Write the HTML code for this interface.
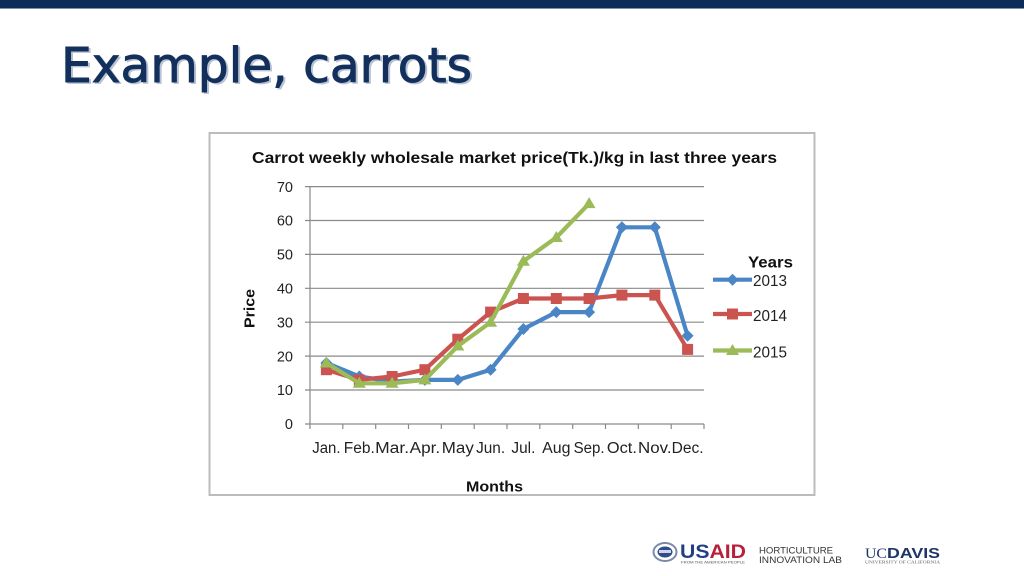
<!DOCTYPE html>
<html><head><meta charset="utf-8"><style>
html,body{margin:0;padding:0;background:#fff;}
svg{display:block;}
</style></head><body>
<svg width="1024" height="576" viewBox="0 0 1024 576" xmlns="http://www.w3.org/2000/svg">
<rect x="0" y="0" width="1024" height="576" fill="#ffffff"/>
<rect x="0" y="0" width="1024" height="8" fill="#0d2b59"/>
<rect x="0" y="8" width="1024" height="1" fill="#7b8fab"/>
<text x="63" y="83.5" font-family="DejaVu Sans, sans-serif" font-size="48" fill="#b8c2d2" stroke="#b8c2d2" stroke-width="0.8" textLength="411" lengthAdjust="spacingAndGlyphs">Example, carrots</text>
<text x="61" y="82" font-family="DejaVu Sans, sans-serif" font-size="48" fill="#13305d" stroke="#13305d" stroke-width="0.9" textLength="411" lengthAdjust="spacingAndGlyphs">Example, carrots</text>

<rect x="209.5" y="133" width="605" height="362" fill="#fff" stroke="#bcbcbc" stroke-width="2"/>
<text x="252" y="163" font-family="Liberation Sans, sans-serif" font-weight="bold" font-size="16" fill="#111" textLength="525" lengthAdjust="spacingAndGlyphs">Carrot weekly wholesale market price(Tk.)/kg  in last three years</text>

<g stroke="#8a8a8a" stroke-width="1.2">
<line x1="305" y1="186.6" x2="704" y2="186.6"/>
<line x1="305" y1="220.5" x2="704" y2="220.5"/>
<line x1="305" y1="254.4" x2="704" y2="254.4"/>
<line x1="305" y1="288.3" x2="704" y2="288.3"/>
<line x1="305" y1="322.2" x2="704" y2="322.2"/>
<line x1="305" y1="356.1" x2="704" y2="356.1"/>
<line x1="305" y1="390" x2="704" y2="390"/>
<line x1="305" y1="424" x2="704" y2="424"/>
<line x1="310" y1="186.6" x2="310" y2="424"/>
<line x1="310" y1="424" x2="310" y2="429"/>
<line x1="342.8" y1="424" x2="342.8" y2="429"/>
<line x1="375.7" y1="424" x2="375.7" y2="429"/>
<line x1="408.5" y1="424" x2="408.5" y2="429"/>
<line x1="441.3" y1="424" x2="441.3" y2="429"/>
<line x1="474.2" y1="424" x2="474.2" y2="429"/>
<line x1="507" y1="424" x2="507" y2="429"/>
<line x1="539.8" y1="424" x2="539.8" y2="429"/>
<line x1="572.7" y1="424" x2="572.7" y2="429"/>
<line x1="605.5" y1="424" x2="605.5" y2="429"/>
<line x1="638.3" y1="424" x2="638.3" y2="429"/>
<line x1="671.2" y1="424" x2="671.2" y2="429"/>
<line x1="704" y1="424" x2="704" y2="429"/>
</g>

<g font-family="Liberation Sans, sans-serif" font-size="14.5" fill="#222" text-anchor="end">
<text x="293" y="191.8">70</text>
<text x="293" y="225.7">60</text>
<text x="293" y="259.6">50</text>
<text x="293" y="293.5">40</text>
<text x="293" y="327.4">30</text>
<text x="293" y="361.3">20</text>
<text x="293" y="395.2">10</text>
<text x="293" y="429.2">0</text>
</g>
<g font-family="Liberation Sans, sans-serif" font-size="15.5" fill="#222" text-anchor="middle" lengthAdjust="spacingAndGlyphs">
<text x="326.4" y="453" textLength="28.3" lengthAdjust="spacingAndGlyphs">Jan.</text>
<text x="359.3" y="453" textLength="31" lengthAdjust="spacingAndGlyphs">Feb.</text>
<text x="392.1" y="453" textLength="34" lengthAdjust="spacingAndGlyphs">Mar.</text>
<text x="424.9" y="453" textLength="30.5" lengthAdjust="spacingAndGlyphs">Apr.</text>
<text x="457.8" y="453" textLength="32" lengthAdjust="spacingAndGlyphs">May</text>
<text x="490.6" y="453" textLength="29" lengthAdjust="spacingAndGlyphs">Jun.</text>
<text x="523.4" y="453" textLength="24" lengthAdjust="spacingAndGlyphs">Jul.</text>
<text x="556.3" y="453" textLength="28.4" lengthAdjust="spacingAndGlyphs">Aug</text>
<text x="589.1" y="453" textLength="31" lengthAdjust="spacingAndGlyphs">Sep.</text>
<text x="621.9" y="453" textLength="30" lengthAdjust="spacingAndGlyphs">Oct.</text>
<text x="654.8" y="453" textLength="33.5" lengthAdjust="spacingAndGlyphs">Nov.</text>
<text x="687.6" y="453" textLength="32" lengthAdjust="spacingAndGlyphs">Dec.</text>
</g>
<text x="466" y="491.5" font-family="Liberation Sans, sans-serif" font-weight="bold" font-size="15" fill="#111" textLength="57" lengthAdjust="spacingAndGlyphs">Months</text>
<text transform="translate(254.5,328) rotate(-90)" x="0" y="0" font-family="Liberation Sans, sans-serif" font-weight="bold" font-size="15" fill="#111" textLength="39" lengthAdjust="spacingAndGlyphs">Price</text>

<!-- 2013 -->
<g>
<polyline fill="none" stroke="#4a85c6" stroke-width="4.2" stroke-linejoin="round" points="326.4,363 359.3,376.5 392.1,381.6 424.9,379.9 457.8,379.9 490.6,369.7 523.4,329 556.3,312.1 589.1,312.1 621.9,227.3 654.8,227.3 687.6,335.8"/>
<g fill="#4a85c6">
<path d="M326.4,357 l6,6 l-6,6 l-6,-6z"/>
<path d="M359.3,370.5 l6,6 l-6,6 l-6,-6z"/>
<path d="M392.1,375.6 l6,6 l-6,6 l-6,-6z"/>
<path d="M424.9,373.9 l6,6 l-6,6 l-6,-6z"/>
<path d="M457.8,373.9 l6,6 l-6,6 l-6,-6z"/>
<path d="M490.6,363.7 l6,6 l-6,6 l-6,-6z"/>
<path d="M523.4,323 l6,6 l-6,6 l-6,-6z"/>
<path d="M556.3,306.1 l6,6 l-6,6 l-6,-6z"/>
<path d="M589.1,306.1 l6,6 l-6,6 l-6,-6z"/>
<path d="M621.9,221.3 l6,6 l-6,6 l-6,-6z"/>
<path d="M654.8,221.3 l6,6 l-6,6 l-6,-6z"/>
<path d="M687.6,329.8 l6,6 l-6,6 l-6,-6z"/>
</g>
</g>
<!-- 2014 -->
<g>
<polyline fill="none" stroke="#cc5450" stroke-width="4.2" stroke-linejoin="round" points="326.4,369.7 359.3,379.9 392.1,376.5 424.9,369.7 457.8,339.2 490.6,312.1 523.4,298.5 556.3,298.5 589.1,298.5 621.9,295.1 654.8,295.1 687.6,349.4"/>
<g fill="#cc5450">
<rect x="320.9" y="364.2" width="11" height="11"/>
<rect x="353.8" y="374.4" width="11" height="11"/>
<rect x="386.6" y="371" width="11" height="11"/>
<rect x="419.4" y="364.2" width="11" height="11"/>
<rect x="452.3" y="333.7" width="11" height="11"/>
<rect x="485.1" y="306.6" width="11" height="11"/>
<rect x="517.9" y="293" width="11" height="11"/>
<rect x="550.8" y="293" width="11" height="11"/>
<rect x="583.6" y="293" width="11" height="11"/>
<rect x="616.4" y="289.6" width="11" height="11"/>
<rect x="649.3" y="289.6" width="11" height="11"/>
<rect x="682.1" y="343.9" width="11" height="11"/>
</g>
</g>
<!-- 2015 -->
<g>
<polyline fill="none" stroke="#9bbb59" stroke-width="4.2" stroke-linejoin="round" points="326.4,363 359.3,383.3 392.1,383.3 424.9,379.9 457.8,346 490.6,322.3 523.4,261.2 556.3,237.5 589.1,203.6"/>
<g fill="#9bbb59">
<path d="M326.4,356.5 l6.5,11 l-13,0z"/>
<path d="M359.3,376.8 l6.5,11 l-13,0z"/>
<path d="M392.1,376.8 l6.5,11 l-13,0z"/>
<path d="M424.9,373.4 l6.5,11 l-13,0z"/>
<path d="M457.8,339.5 l6.5,11 l-13,0z"/>
<path d="M490.6,315.8 l6.5,11 l-13,0z"/>
<path d="M523.4,254.7 l6.5,11 l-13,0z"/>
<path d="M556.3,231 l6.5,11 l-13,0z"/>
<path d="M589.1,197.1 l6.5,11 l-13,0z"/>
</g>
</g>

<!-- legend -->
<text x="748" y="267.5" font-family="Liberation Sans, sans-serif" font-weight="bold" font-size="15.5" fill="#111" textLength="45" lengthAdjust="spacingAndGlyphs">Years</text>
<line x1="713" y1="279.7" x2="752" y2="279.7" stroke="#4a85c6" stroke-width="4.2"/>
<path d="M732.5,273.7 l6,6 l-6,6 l-6,-6z" fill="#4a85c6"/>
<text x="753" y="286" font-family="Liberation Sans, sans-serif" font-size="16" fill="#222" textLength="34" lengthAdjust="spacingAndGlyphs">2013</text>
<line x1="713" y1="314" x2="752" y2="314" stroke="#cc5450" stroke-width="4.2"/>
<rect x="727" y="308.5" width="11" height="11" fill="#cc5450"/>
<text x="753" y="321" font-family="Liberation Sans, sans-serif" font-size="16" fill="#222" textLength="34" lengthAdjust="spacingAndGlyphs">2014</text>
<line x1="713" y1="350.5" x2="752" y2="350.5" stroke="#9bbb59" stroke-width="4.2"/>
<path d="M732.5,344 l6.5,11 l-13,0z" fill="#9bbb59"/>
<text x="753" y="357.5" font-family="Liberation Sans, sans-serif" font-size="16" fill="#222" textLength="34" lengthAdjust="spacingAndGlyphs">2015</text>

<!-- logos -->
<ellipse cx="665" cy="552" rx="11.5" ry="9" fill="#fff" stroke="#7a8aa8" stroke-width="2"/>
<ellipse cx="665" cy="552" rx="7.5" ry="5.5" fill="#2e4c8e"/>
<rect x="659" y="550" width="12" height="3" fill="#d0d6e4"/>
<text x="680" y="558" font-family="Liberation Sans, sans-serif" font-weight="bold" font-size="19" fill="#223f86" textLength="66" lengthAdjust="spacingAndGlyphs">US<tspan fill="#b81f3a">AID</tspan></text>
<text x="681" y="563.5" font-family="Liberation Sans, sans-serif" font-size="3.5" fill="#555" textLength="64" lengthAdjust="spacingAndGlyphs">FROM THE AMERICAN PEOPLE</text>
<text x="759" y="553.5" font-family="Liberation Sans, sans-serif" font-size="9.5" fill="#333" textLength="74" lengthAdjust="spacingAndGlyphs">HORTICULTURE</text>
<text x="759" y="563" font-family="Liberation Sans, sans-serif" font-size="9.5" fill="#333" textLength="83" lengthAdjust="spacingAndGlyphs">INNOVATION LAB</text>
<text x="865" y="558" font-family="Liberation Serif, serif" font-size="15" fill="#1e3566" textLength="22" lengthAdjust="spacingAndGlyphs">UC</text>
<text x="887" y="558" font-family="Liberation Sans, sans-serif" font-weight="bold" font-size="15" fill="#1e3566" textLength="53" lengthAdjust="spacingAndGlyphs">DAVIS</text>
<text x="865" y="563.5" font-family="Liberation Serif, serif" font-size="4" fill="#666" textLength="75" lengthAdjust="spacingAndGlyphs">UNIVERSITY OF CALIFORNIA</text>
</svg>
</body></html>
